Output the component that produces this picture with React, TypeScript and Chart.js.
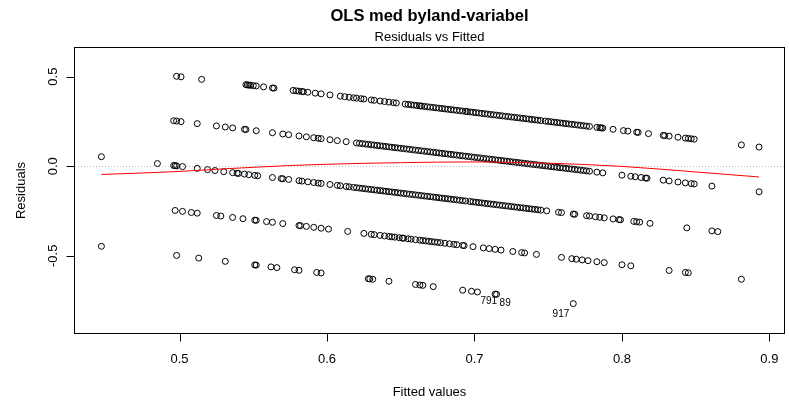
import React, { useEffect, useRef } from 'react';
import { Chart, registerables } from 'chart.js';

Chart.register(...registerables);

// ---- text ----
const mainTitle = 'OLS med byland-variabel';
const subTitle = 'Residuals vs Fitted';
const xAxisTitle = 'Fitted values';
const yAxisTitle = 'Residuals';

// ---- axes ----
const xTickValues = [0.5, 0.6, 0.7, 0.8, 0.9];
const xTickLabels = ['0.5', '0.6', '0.7', '0.8', '0.9'];
const yTickValues = [-0.5, 0.0, 0.5];
const yTickLabels = ['-0.5', '0.0', '0.5'];
const xLimits = [0.4291, 0.9099];
const yLimits = [-0.931, 0.66];

// ---- points: [fitted, residual], grouped by observed value band ----
const obs100: [number, number][] = [
  [0.498, 0.502], [0.501, 0.499], [0.515, 0.485], [0.545, 0.455], [0.546, 0.454], [0.547, 0.453], [0.548, 0.452],
  [0.55, 0.45], [0.552, 0.448], [0.557, 0.443], [0.563, 0.437], [0.564, 0.436], [0.577, 0.423], [0.579, 0.421],
  [0.581, 0.419], [0.583, 0.417], [0.584, 0.416], [0.587, 0.413], [0.592, 0.408], [0.596, 0.404], [0.602, 0.398],
  [0.609, 0.391], [0.612, 0.388], [0.615, 0.385], [0.618, 0.382], [0.62, 0.38], [0.623, 0.377], [0.625, 0.375],
  [0.63, 0.37], [0.632, 0.368], [0.636, 0.364], [0.639, 0.361], [0.642, 0.358], [0.645, 0.355], [0.647, 0.353],
  [0.653, 0.347], [0.655, 0.345], [0.657, 0.343], [0.659, 0.341], [0.661, 0.339], [0.663, 0.337], [0.664, 0.336],
  [0.666, 0.334], [0.668, 0.332], [0.67, 0.33], [0.672, 0.328], [0.674, 0.326], [0.676, 0.324], [0.678, 0.322],
  [0.68, 0.32], [0.682, 0.318], [0.684, 0.316], [0.686, 0.314], [0.688, 0.312], [0.69, 0.31], [0.692, 0.308],
  [0.694, 0.306], [0.695, 0.305], [0.697, 0.303], [0.699, 0.301], [0.701, 0.299], [0.703, 0.297], [0.705, 0.295],
  [0.707, 0.293], [0.709, 0.291], [0.711, 0.289], [0.713, 0.287], [0.715, 0.285], [0.717, 0.283], [0.719, 0.281],
  [0.721, 0.279], [0.723, 0.277], [0.725, 0.275], [0.727, 0.273], [0.729, 0.271], [0.731, 0.269], [0.733, 0.267],
  [0.735, 0.265], [0.737, 0.263], [0.739, 0.261], [0.741, 0.259], [0.743, 0.257], [0.745, 0.255], [0.748, 0.252],
  [0.75, 0.25], [0.752, 0.248], [0.754, 0.246], [0.756, 0.244], [0.758, 0.242], [0.76, 0.24], [0.762, 0.238],
  [0.764, 0.236], [0.766, 0.234], [0.768, 0.232], [0.77, 0.23], [0.772, 0.228], [0.774, 0.226], [0.776, 0.224],
  [0.778, 0.222], [0.783, 0.217], [0.785, 0.215], [0.786, 0.214], [0.787, 0.213], [0.794, 0.206], [0.801, 0.199],
  [0.804, 0.196], [0.81, 0.19], [0.811, 0.189], [0.818, 0.182], [0.828, 0.172], [0.829, 0.171], [0.832, 0.168],
  [0.838, 0.162], [0.843, 0.157], [0.845, 0.155], [0.847, 0.153], [0.849, 0.151], [0.881, 0.119], [0.893, 0.107],
];

const obs075: [number, number][] = [
  [0.496, 0.254], [0.498, 0.252], [0.501, 0.249], [0.512, 0.238], [0.525, 0.225], [0.531, 0.219], [0.536, 0.214],
  [0.544, 0.206], [0.545, 0.205], [0.552, 0.198], [0.563, 0.187], [0.57, 0.18], [0.574, 0.176], [0.581, 0.169],
  [0.586, 0.164], [0.591, 0.159], [0.594, 0.156], [0.596, 0.154], [0.602, 0.148], [0.607, 0.143], [0.613, 0.137],
  [0.62, 0.13], [0.622, 0.128], [0.624, 0.126], [0.626, 0.124], [0.628, 0.122], [0.63, 0.12], [0.632, 0.118],
  [0.634, 0.116], [0.636, 0.114], [0.638, 0.112], [0.64, 0.11], [0.642, 0.108], [0.644, 0.106], [0.646, 0.104],
  [0.648, 0.102], [0.65, 0.1], [0.652, 0.098], [0.654, 0.096], [0.656, 0.094], [0.658, 0.092], [0.66, 0.09],
  [0.662, 0.088], [0.664, 0.086], [0.666, 0.084], [0.668, 0.082], [0.67, 0.08], [0.672, 0.078], [0.674, 0.076],
  [0.676, 0.074], [0.678, 0.072], [0.68, 0.07], [0.682, 0.068], [0.684, 0.066], [0.686, 0.064], [0.688, 0.062],
  [0.69, 0.06], [0.692, 0.058], [0.694, 0.056], [0.696, 0.054], [0.698, 0.052], [0.7, 0.05], [0.702, 0.048],
  [0.704, 0.046], [0.706, 0.044], [0.708, 0.042], [0.71, 0.04], [0.712, 0.038], [0.714, 0.036], [0.716, 0.034],
  [0.718, 0.032], [0.72, 0.03], [0.722, 0.028], [0.724, 0.026], [0.726, 0.024], [0.728, 0.022], [0.73, 0.02],
  [0.732, 0.018], [0.734, 0.016], [0.736, 0.014], [0.738, 0.012], [0.74, 0.01], [0.742, 0.008], [0.744, 0.006],
  [0.746, 0.004], [0.748, 0.002], [0.75, 0.0], [0.752, -0.002], [0.754, -0.004], [0.756, -0.006], [0.758, -0.008],
  [0.76, -0.01], [0.762, -0.012], [0.764, -0.014], [0.766, -0.016], [0.768, -0.018], [0.77, -0.02], [0.772, -0.022],
  [0.774, -0.024], [0.776, -0.026], [0.778, -0.028], [0.783, -0.033], [0.787, -0.037], [0.8, -0.05], [0.806, -0.056],
  [0.809, -0.059], [0.813, -0.063], [0.816, -0.066], [0.817, -0.067], [0.828, -0.078], [0.832, -0.082],
  [0.838, -0.088], [0.843, -0.093], [0.847, -0.097], [0.849, -0.099], [0.861, -0.111], [0.893, -0.143],
];

const obs050: [number, number][] = [
  [0.447, 0.053], [0.485, 0.015], [0.496, 0.004], [0.497, 0.003], [0.498, 0.002], [0.502, -0.002], [0.512, -0.012],
  [0.519, -0.019], [0.524, -0.024], [0.53, -0.03], [0.536, -0.036], [0.539, -0.039], [0.54, -0.04], [0.544, -0.044],
  [0.547, -0.047], [0.551, -0.051], [0.553, -0.053], [0.563, -0.063], [0.569, -0.069], [0.57, -0.07], [0.574, -0.074],
  [0.581, -0.081], [0.583, -0.083], [0.587, -0.087], [0.591, -0.091], [0.594, -0.094], [0.596, -0.096],
  [0.602, -0.102], [0.607, -0.107], [0.609, -0.109], [0.613, -0.113], [0.615, -0.115], [0.618, -0.118],
  [0.62, -0.12], [0.622, -0.122], [0.624, -0.124], [0.626, -0.126], [0.628, -0.128], [0.63, -0.13], [0.632, -0.132],
  [0.634, -0.134], [0.636, -0.136], [0.638, -0.138], [0.64, -0.14], [0.642, -0.142], [0.644, -0.144],
  [0.646, -0.146], [0.648, -0.148], [0.65, -0.15], [0.652, -0.152], [0.654, -0.154], [0.656, -0.156],
  [0.658, -0.158], [0.66, -0.16], [0.662, -0.162], [0.664, -0.164], [0.666, -0.166], [0.668, -0.168], [0.67, -0.17],
  [0.672, -0.172], [0.674, -0.174], [0.676, -0.176], [0.678, -0.178], [0.68, -0.18], [0.682, -0.182],
  [0.684, -0.184], [0.686, -0.186], [0.688, -0.188], [0.69, -0.19], [0.692, -0.192], [0.694, -0.194],
  [0.697, -0.197], [0.699, -0.199], [0.701, -0.201], [0.703, -0.203], [0.705, -0.205], [0.707, -0.207],
  [0.709, -0.209], [0.711, -0.211], [0.713, -0.213], [0.715, -0.215], [0.717, -0.217], [0.719, -0.219],
  [0.721, -0.221], [0.723, -0.223], [0.725, -0.225], [0.727, -0.227], [0.729, -0.229], [0.731, -0.231],
  [0.733, -0.233], [0.735, -0.235], [0.737, -0.237], [0.739, -0.239], [0.741, -0.241], [0.743, -0.243],
  [0.745, -0.245], [0.749, -0.249], [0.757, -0.257], [0.759, -0.259], [0.767, -0.267], [0.768, -0.268],
  [0.776, -0.276], [0.778, -0.278], [0.782, -0.282], [0.785, -0.285], [0.788, -0.288], [0.794, -0.294],
  [0.798, -0.298], [0.799, -0.299], [0.808, -0.308], [0.81, -0.31], [0.812, -0.312], [0.819, -0.319],
  [0.844, -0.344], [0.861, -0.361], [0.865, -0.365],
];

const obs025: [number, number][] = [
  [0.497, -0.247], [0.502, -0.252], [0.508, -0.258], [0.512, -0.262], [0.525, -0.275], [0.528, -0.278],
  [0.536, -0.286], [0.543, -0.293], [0.551, -0.301], [0.552, -0.302], [0.559, -0.309], [0.563, -0.313],
  [0.57, -0.32], [0.581, -0.331], [0.582, -0.332], [0.586, -0.336], [0.591, -0.341], [0.596, -0.346],
  [0.601, -0.351], [0.614, -0.364], [0.625, -0.375], [0.63, -0.38], [0.632, -0.382], [0.636, -0.386],
  [0.639, -0.389], [0.642, -0.392], [0.644, -0.394], [0.646, -0.396], [0.649, -0.399], [0.651, -0.401],
  [0.652, -0.402], [0.655, -0.405], [0.657, -0.407], [0.66, -0.41], [0.663, -0.413], [0.665, -0.415],
  [0.667, -0.417], [0.669, -0.419], [0.671, -0.421], [0.673, -0.423], [0.675, -0.425], [0.677, -0.427],
  [0.68, -0.43], [0.683, -0.433], [0.686, -0.436], [0.688, -0.438], [0.692, -0.442], [0.693, -0.443],
  [0.699, -0.449], [0.706, -0.456], [0.71, -0.46], [0.714, -0.464], [0.718, -0.468], [0.726, -0.476],
  [0.732, -0.482], [0.734, -0.484], [0.742, -0.492], [0.759, -0.509], [0.766, -0.516], [0.769, -0.519],
  [0.773, -0.523], [0.777, -0.527], [0.783, -0.533], [0.788, -0.538], [0.8, -0.55], [0.806, -0.556],
  [0.832, -0.582], [0.843, -0.593], [0.845, -0.595], [0.881, -0.631],
];

const obs000: [number, number][] = [
  [0.447, -0.447], [0.498, -0.498], [0.513, -0.513], [0.531, -0.531], [0.551, -0.551], [0.552, -0.552],
  [0.562, -0.562], [0.566, -0.566], [0.578, -0.578], [0.581, -0.581], [0.593, -0.593], [0.596, -0.596],
  [0.628, -0.628], [0.629, -0.629], [0.631, -0.631], [0.642, -0.642], [0.66, -0.66], [0.663, -0.663],
  [0.665, -0.665], [0.672, -0.672], [0.692, -0.692], [0.698, -0.698], [0.702, -0.702],
];

// ---- labelled observations (largest residuals) ----
const outlierIds = ['791', '89', '917'];
const outlierFitted = [0.714, 0.715, 0.767];
const outlierResid = [-0.714, -0.715, -0.767];

// ---- lowess smoother (red) ----
const lowessFitted = [0.447, 0.5, 0.525, 0.55, 0.575, 0.6, 0.65, 0.7, 0.75, 0.8, 0.85, 0.893];
const lowessResid = [-0.046, -0.029, -0.017, -0.006, 0.004, 0.011, 0.02, 0.024, 0.017, -0.001, -0.032, -0.06];

const FONT = '"Liberation Sans", Arial, Helvetica, sans-serif';

const toXY = (arr: [number, number][]) => arr.map(([x, y]) => ({ x, y }));

const rPlotPlugin = {
  id: 'rPlot',
  beforeDatasetsDraw(chart: any) {
    const { ctx, chartArea: a, scales } = chart;
    const y0 = Math.round(scales.y.getPixelForValue(0)) + 0.5;
    ctx.save();
    ctx.strokeStyle = '#bebebe';
    ctx.lineWidth = 1;
    ctx.setLineDash([1, 2]);
    ctx.beginPath();
    ctx.moveTo(a.left, y0);
    ctx.lineTo(a.right, y0);
    ctx.stroke();
    ctx.restore();
  },
  afterDraw(chart: any) {
    const { ctx, chartArea: a, scales } = chart;
    const xs = scales.x;
    const ys = scales.y;
    ctx.save();
    // box
    ctx.strokeStyle = '#000';
    ctx.lineWidth = 1;
    ctx.setLineDash([]);
    ctx.strokeRect(a.left - 0.5, a.top - 0.5, a.right - a.left + 1, a.bottom - a.top + 1);
    // ticks
    ctx.beginPath();
    xTickValues.forEach((v) => {
      const px = Math.round(xs.getPixelForValue(v)) + 0.5;
      ctx.moveTo(px, a.bottom + 0.5);
      ctx.lineTo(px, a.bottom + 8.5);
    });
    yTickValues.forEach((v) => {
      const py = Math.round(ys.getPixelForValue(v)) + 0.5;
      ctx.moveTo(a.left - 0.5, py);
      ctx.lineTo(a.left - 8.5, py);
    });
    ctx.stroke();
    // tick labels
    ctx.fillStyle = '#000';
    ctx.font = `13px ${FONT}`;
    ctx.textAlign = 'center';
    ctx.textBaseline = 'alphabetic';
    xTickValues.forEach((v, i) => {
      ctx.fillText(xTickLabels[i], xs.getPixelForValue(v), a.bottom + 30);
    });
    yTickValues.forEach((v, i) => {
      ctx.save();
      ctx.translate(a.left - 18, ys.getPixelForValue(v));
      ctx.rotate(-Math.PI / 2);
      ctx.fillText(yTickLabels[i], 0, 0);
      ctx.restore();
    });
    // axis titles
    const cx = (a.left + a.right) / 2;
    const cy = (a.top + a.bottom) / 2;
    ctx.fillText(xAxisTitle, cx, a.bottom + 63);
    ctx.save();
    ctx.translate(a.left - 50, cy);
    ctx.rotate(-Math.PI / 2);
    ctx.fillText(yAxisTitle, 0, 0);
    ctx.restore();
    // titles
    ctx.font = `bold 16.5px ${FONT}`;
    ctx.fillText(mainTitle, cx, a.top - 27);
    ctx.font = `13px ${FONT}`;
    ctx.fillText(subTitle, cx, a.top - 7);
    // id labels
    ctx.font = `10px ${FONT}`;
    const place = [
      { align: 'right', dx: 2, dy: 10 },
      { align: 'left', dx: 3, dy: 12 },
      { align: 'right', dx: -4, dy: 13 },
    ];
    outlierIds.forEach((id, i) => {
      const px = xs.getPixelForValue(outlierFitted[i]);
      const py = ys.getPixelForValue(outlierResid[i]);
      ctx.textAlign = place[i].align;
      ctx.fillText(id, px + place[i].dx, py + place[i].dy);
    });
    ctx.restore();
  },
};

export default function App() {
  const canvasRef = useRef<HTMLCanvasElement | null>(null);

  useEffect(() => {
    if (!canvasRef.current) return;
    const pointStyle = {
      pointRadius: 3,
      pointBorderWidth: 1,
      pointBorderColor: '#000',
      pointBackgroundColor: 'rgba(0,0,0,0)',
      borderColor: '#000',
      backgroundColor: 'rgba(0,0,0,0)',
      showLine: false,
      order: 1,
    };
    const outliers = outlierFitted.map((x, i) => ({ x, y: outlierResid[i] }));
    const chart = new Chart(canvasRef.current, {
      type: 'scatter',
      data: {
        datasets: [
          {
            label: 'lowess',
            data: lowessFitted.map((x, i) => ({ x, y: lowessResid[i] })),
            showLine: true,
            borderColor: '#ff0000',
            borderWidth: 1,
            pointRadius: 0,
            tension: 0.4,
            cubicInterpolationMode: 'monotone',
            order: 0,
          } as any,
          { label: 'y=1', data: toXY(obs100), ...pointStyle },
          { label: 'y=0.75', data: toXY(obs075), ...pointStyle },
          { label: 'y=0.5', data: toXY(obs050), ...pointStyle },
          { label: 'y=0.25', data: toXY(obs025), ...pointStyle },
          { label: 'y=0', data: [...toXY(obs000), ...outliers], ...pointStyle },
        ],
      },
      options: {
        responsive: false,
        animation: false,
        devicePixelRatio: 1,
        events: [],
        layout: { padding: { top: 48, left: 0, right: 0, bottom: 0 } },
        plugins: {
          legend: { display: false },
          tooltip: { enabled: false },
          title: { display: false },
        },
        scales: {
          x: {
            type: 'linear',
            min: xLimits[0],
            max: xLimits[1],
            grid: { display: false },
            border: { display: false },
            ticks: { display: false },
            afterFit: (s: any) => {
              s.height = 74;
            },
          },
          y: {
            type: 'linear',
            min: yLimits[0],
            max: yLimits[1],
            grid: { display: false },
            border: { display: false },
            ticks: { display: false },
            afterFit: (s: any) => {
              s.width = 75;
            },
          },
        },
      } as any,
      plugins: [rPlotPlugin],
    });
    return () => chart.destroy();
  }, []);

  return (
    <div style={{ position: 'absolute', left: 0, top: 0, width: 789, height: 407, background: '#fff' }}>
      <canvas ref={canvasRef} width={789} height={407} style={{ display: 'block', width: 789, height: 407 }} />
    </div>
  );
}
